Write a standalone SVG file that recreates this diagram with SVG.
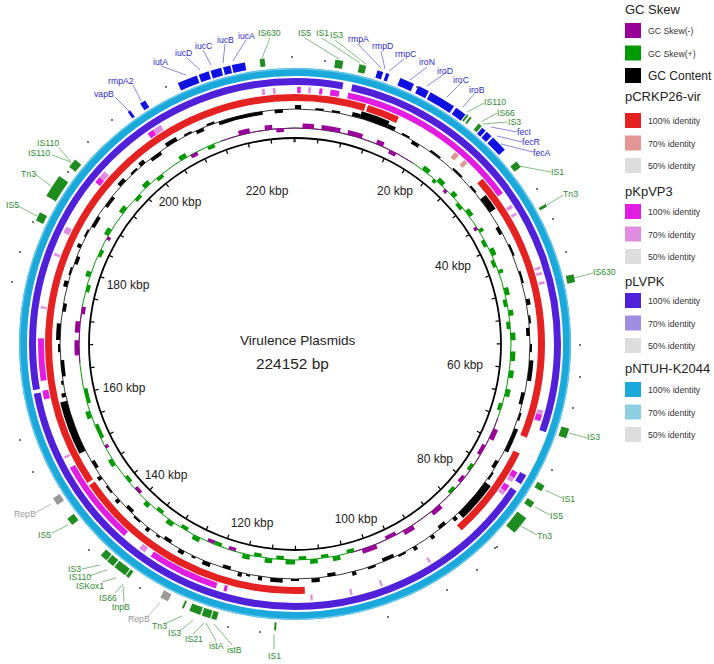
<svg xmlns="http://www.w3.org/2000/svg" width="714" height="664" viewBox="0 0 714 664">
<style>
text{font-family:"Liberation Sans",Arial,sans-serif}
.r{fill:none}
.lb{font-size:8.7px}
.bl{fill:#2B2BC8}
.gr{fill:#2E8B2E}
.gy{fill:#999999}
.ll{stroke-width:0.8;fill:none}
.lbb{stroke:#6A6AD8}
.lgg{stroke:#5CAF5C}
.lgy{stroke:#AAAAAA}
.tk{font-size:12px;fill:#222222;text-anchor:middle}
.lh{font-size:13px;fill:#222222}
.ls{font-size:8.7px;fill:#333333}
.dot{fill:#333333}
</style>
<rect width="714" height="664" fill="#ffffff"/>
<g id="plasmid-map" transform="translate(295,344)">
 <g id="rings" transform="rotate(-90)">
  <!-- pNTUH-K2044 -->
  <circle class="r" r="272" stroke="#1BA9DC" stroke-width="8"/>
  <circle class="r" r="275.2" stroke="#6CC8EC" stroke-width="1.2"/>
  <!-- pLVPK -->
  <circle class="r" r="262.5" stroke="#5121D9" stroke-width="7" pathLength="360" stroke-dasharray="10.5 2 96.9 10.2 2.2 1.8 135.6 0.8 100"/>
  <!-- pKpVP3 -->
  <circle class="r" r="254" stroke="#E11DE1" stroke-width="6" pathLength="360" stroke-dasharray="0 0.5 0.8 4.2 0.7 1.8 2 2 42 52 1.5 12.5 1.5 2 1.5 70.5 0.7 1.8 16.2 7.5 19.5 16.3 2 2.2 9.6 37.7 1.5 14.5 1.5 33.5"/>
  <circle class="r" r="254" stroke="#E08CE0" stroke-width="6" pathLength="360" stroke-dasharray="0 3 0.6 53.6 0.8 1.2 0.6 12.6 0.6 0.7 0.6 1.5 0.6 28.6 1 15.5 1 2.5 1 22 0.5 11.5 0.5 6.5 0.5 8.5 0.5 39.3 1.5 26.2 0.5 34 0.5 11.7 0.6 4.9 1.5 13.3 1.7 14.3 2 24 0.7 1.8 0.6 4.4"/>
  <!-- pCRKP26-vir -->
  <circle class="r" r="246.5" stroke="#E52222" stroke-width="7" pathLength="360" stroke-dasharray="16.5 0.5 7.6 24 63.4 4 22.2 39.5 57.8 0.7 123.8"/>
  <circle class="r" r="246.5" stroke="#E39696" stroke-width="7" pathLength="360" stroke-dasharray="0 39.8 1.2 1.6 1 316.4"/>
  <!-- GC content -->
  <circle class="r" r="235" stroke="#000000" stroke-width="0.8"/>
  <circle class="r" r="238.5" stroke="#000000" stroke-width="7" pathLength="360" stroke-dasharray="0 16 7 29 4 70 10 107 13 104"/>
  <circle class="r" r="237" stroke="#000000" stroke-width="4" pathLength="360" stroke-dasharray="1.5 12.5 2 7 2 54 1.5 13.5 5 12 6 20 1 6 1 4 1 15 1 8 2 7 3 2 1 4 1 7 2 5 1.5 8.5 1 9 1 6 1 21 1 13 4 9 1.5 8.5 1 17 2 5 1.5 6.5 3 30"/>
  <circle class="r" r="233.2" stroke="#000000" stroke-width="3.5" pathLength="360" stroke-dasharray="0 30 2 28 2 24 2 14 3 15 2 18 2 13 3 12 2 24 2 14 2 10 2 12 2 22 4 12 2 10 2 8 3 3 3 13 3 10 2 4 11 3 2 3"/>
  <circle class="r" r="236" stroke="#000000" stroke-width="2" pathLength="360" stroke-dasharray="0 5 2 2 2 16 2 6 3 4 3 3 2 15 3 4 3 8 2 5 2 15 2 14 2 27 2 6 2 17 2 10 1 13 1 9 1 5 2 8 2 27 1 7 2 17 2 8 2 17 2 14 2 4 2 20"/>
  <!-- GC skew -->
  <circle class="r" r="216" stroke="#009900" stroke-width="1"/>
  <circle class="r" r="216" stroke="#990099" stroke-width="1" pathLength="360" stroke-dasharray="33 77 55 100 15 60 20"/>
  <circle class="r" r="218.3" stroke="#009900" stroke-width="4.5" pathLength="360" stroke-dasharray="0 36 2 3 2 3 1.5 4.5 2 4 1 5 2 4 1 4 2 4 1.5 4.5 2 3 2.5 2.5 2 3 2 64 2 4 2 4 2.5 3.5 2 4 2 12 2 6 2 6 1.5 12.5 2 12 2 36 1.5 10.5 2 5 2 7 2 10 2 30"/>
  <circle class="r" r="218.3" stroke="#990099" stroke-width="4.5" pathLength="360" stroke-dasharray="0 2 3 2 5 2 4 4 2 89 3 22 3 6 3 8 4 105 4 2 3 69 3 4 2 6"/>
  <circle class="r" r="214" stroke="#990099" stroke-width="3.5" pathLength="360" stroke-dasharray="0 26 2 16 1 12 1 60 3 7 2 22 3 41 2 4 2 22 2 13 1 36 2 19 1 31 2 22 2 3"/>
  <circle class="r" r="214" stroke="#009900" stroke-width="3.5" pathLength="360" stroke-dasharray="0 40 1 8 2 10 2 4 2 9 2 4 2 20 2 16 2 6 2 30 2 5 2 4 2 4 2 4 2 9 2 8 2 6 2 10 2 12 4 6 4 26 2 8 2 16 2 6 2 14 2 22"/>
  <!-- backbone -->
  <circle class="r" r="206" stroke="#000000" stroke-width="1.8"/>
  <circle class="r" r="203.5" stroke="#000000" stroke-width="3.5" pathLength="360" stroke-dasharray="0.35 6.074" stroke-dashoffset="0.175"/>
 </g>
 <g id="features" transform="rotate(-90)">
  <circle id="genes-blue" class="r" r="282" stroke="#1010E0" stroke-width="8" pathLength="360" stroke-dasharray="0 16.8 1.2 0.6 0.7 2.3 3 1 2.3 0.4 5.5 0.5 2.3 4.3 0.9 0.3 1.3 0.4 3.4 277 0.6 2.4 1.2 7.4 4.1 0.4 2.1 0.4 2.2 0.4 1.5 0.3 2.7 10.1"/>
  <circle id="mobile-elements" class="r" r="283" stroke="#1E8C1E" stroke-width="8" pathLength="360" stroke-dasharray="0 8.1 1.6 3.3 1.4 22.4 0.4 0.4 0.4 1.8 0.8 9.9 1.4 8.9 0.6 14.5 1.6 29.7 2 10.4 1.3 2.6 1.3 59 0.4 11.7 1.1 0.2 1.8 0.3 2.3 1.2 0.4 12.2 0.7 0.2 2.7 0.3 1.6 0.2 1.5 8.3 1.6 63 1.8 10.8 1.9 42.9 1 6.1"/>
  <circle id="tn3-large" class="r" r="284" stroke="#1E8C1E" stroke-width="11" pathLength="360" stroke-dasharray="0 127 3.7 170.1 4.7 54.5"/>
  <circle id="repB" class="r" r="283" stroke="#999999" stroke-width="8" pathLength="360" stroke-dasharray="0 206.3 1.7 27.9 1.6 122.5"/>
 </g>
</g>
<g id="outer-marks">
 <circle class="dot" cx="112" cy="120" r="0.9"/><circle class="dot" cx="292" cy="57" r="0.9"/><circle class="dot" cx="166" cy="87" r="0.9"/>
 <circle class="dot" cx="325" cy="61" r="0.9"/><circle class="dot" cx="417" cy="87" r="0.9"/><circle class="dot" cx="537" cy="189" r="0.9"/>
 <circle class="dot" cx="553" cy="219" r="0.9"/><circle class="dot" cx="566" cy="252" r="0.9"/><circle class="dot" cx="88" cy="142" r="0.9"/>
 <circle class="dot" cx="68" cy="172" r="0.9"/><circle class="dot" cx="33" cy="222" r="0.9"/><circle class="dot" cx="20" cy="252" r="0.9"/>
 <circle class="dot" cx="12" cy="282" r="0.9"/><circle class="dot" cx="580" cy="345" r="0.9"/><circle class="dot" cx="580" cy="377" r="0.9"/>
 <circle class="dot" cx="573" cy="408" r="0.9"/><circle class="dot" cx="552" cy="470" r="0.9"/><circle class="dot" cx="495" cy="548" r="0.9"/>
 <circle class="dot" cx="89" cy="550" r="0.9"/><circle class="dot" cx="140" cy="588" r="0.9"/><circle class="dot" cx="228" cy="627" r="0.9"/>
 <circle class="dot" cx="260" cy="632" r="0.9"/><circle class="dot" cx="20" cy="440" r="0.9"/><circle class="dot" cx="33" cy="472" r="0.9"/>
 <circle class="dot" cx="447" cy="590" r="0.9"/><circle class="dot" cx="497" cy="547" r="0.9"/><circle class="dot" cx="477" cy="570" r="0.9"/>
 <circle class="dot" cx="388" cy="617" r="0.9"/>
</g>
<g id="scale-labels">
 <text class="tk" x="395" y="195">20 kbp</text>
 <text class="tk" x="453" y="270">40 kbp</text>
 <text class="tk" x="465" y="369">60 kbp</text>
 <text class="tk" x="435" y="463">80 kbp</text>
 <text class="tk" x="356" y="523">100 kbp</text>
 <text class="tk" x="252" y="527">120 kbp</text>
 <text class="tk" x="166" y="479">140 kbp</text>
 <text class="tk" x="124" y="392">160 kbp</text>
 <text class="tk" x="128" y="289">180 kbp</text>
 <text class="tk" x="180" y="206">200 kbp</text>
 <text class="tk" x="267" y="195">220 kbp</text>
</g>
<g id="title">
 <text x="240" y="345" font-size="13.6" fill="#222222">Virulence Plasmids</text>
 <text x="256" y="369" font-size="15.4" fill="#222222">224152 bp</text>
</g>
<g id="connectors">
 <path class="ll lbb" d="M115,97L130,112M133,85L141,101M161,66L186,75M186,57L200,70M203,50L211,65M225,44L223,63M246,40L233,61M358,44L381,68M381,51L385,69M404,59L389,71M427,67L410,80M447,72L427,86M462,82L447,97M476,92L463,107M517,132L491,127M522,142L497,136M533,152L501,144"/>
 <path class="ll lgg" d="M270,38L262,58M305,38L339,59M322,38L360,63M335,40L366,64M484,103L467,112M497,113L481,122M507,122L483,124M551,172L519,166M563,195L547,205M593,273L574,278M587,438L569,433M562,498L545,490M550,515L535,507M537,535L519,525M274,649L274,634M232,645L214,624M216,641L206,623M193,634L204,623M180,631L193,620M164,624L182,616M124,602L123,586M115,593L123,584M102,582L116,578M89,576L107,570M82,569L100,565M52,533L68,525M18,206L37,216M35,174L51,186M59,148L71,162M52,155L71,162"/>
 <path class="ll lgy" d="M147,617L160,603M35,513L51,504"/>
</g>
<g id="gene-labels" class="lb">
 <text class="bl" x="94" y="97">vapB</text>
 <text class="bl" x="108" y="84">rmpA2</text>
 <text class="bl" x="153" y="65">iutA</text>
 <text class="bl" x="175" y="56">iucD</text>
 <text class="bl" x="195" y="49">iucC</text>
 <text class="bl" x="217" y="43">iucB</text>
 <text class="bl" x="238" y="39">iucA</text>
 <text class="bl" x="348" y="42">rmpA</text>
 <text class="bl" x="372" y="49">rmpD</text>
 <text class="bl" x="395" y="57">rmpC</text>
 <text class="bl" x="419" y="65">iroN</text>
 <text class="bl" x="437" y="74">iroD</text>
 <text class="bl" x="453" y="83">iroC</text>
 <text class="bl" x="469" y="93">iroB</text>
 <text class="bl" x="517" y="135">fecI</text>
 <text class="bl" x="522" y="145">fecR</text>
 <text class="bl" x="533" y="156">fecA</text>
 <text class="gr" x="258" y="36">IS630</text>
 <text class="gr" x="298" y="36">IS5</text>
 <text class="gr" x="316" y="36">IS1</text>
 <text class="gr" x="330" y="38">IS3</text>
 <text class="gr" x="484" y="105">IS110</text>
 <text class="gr" x="497" y="115.5">IS66</text>
 <text class="gr" x="508" y="125">IS3</text>
 <text class="gr" x="551" y="175">IS1</text>
 <text class="gr" x="563" y="197">Tn3</text>
 <text class="gr" x="593" y="275">IS630</text>
 <text class="gr" x="587" y="440">IS3</text>
 <text class="gr" x="562" y="502">IS1</text>
 <text class="gr" x="550" y="519">IS5</text>
 <text class="gr" x="537" y="539">Tn3</text>
 <text class="gr" x="268" y="659">IS1</text>
 <text class="gr" x="227" y="653">istB</text>
 <text class="gr" x="209" y="649">istA</text>
 <text class="gr" x="185" y="642">IS21</text>
 <text class="gr" x="168" y="636">IS3</text>
 <text class="gr" x="152" y="629">Tn3</text>
 <text class="gr" x="112" y="610">tnpB</text>
 <text class="gr" x="99" y="601">IS66</text>
 <text class="gr" x="76" y="588.5">ISKox1</text>
 <text class="gr" x="69" y="580">IS110</text>
 <text class="gr" x="68" y="571.5">IS3</text>
 <text class="gr" x="38" y="538">IS5</text>
 <text class="gr" x="6" y="208">IS5</text>
 <text class="gr" x="21" y="177">Tn3</text>
 <text class="gr" x="28" y="156">IS110</text>
 <text class="gr" x="37" y="146">IS110</text>
 <text class="gy" x="128" y="622">RepB</text>
 <text class="gy" x="14" y="517">RepB</text>
</g>
<g id="legend">
 <text class="lh" x="625" y="14">GC Skew</text>
 <rect x="625" y="23" width="16" height="15" fill="#990099"/><text class="ls" x="648" y="34">GC Skew(-)</text>
 <rect x="625" y="45.5" width="16" height="15" fill="#009900"/><text class="ls" x="648" y="56.5">GC Skew(+)</text>
 <rect x="625" y="68" width="16" height="15" fill="#000000"/><text x="648" y="80" font-size="12" fill="#222222">GC Content</text>
 <text class="lh" x="625" y="101">pCRKP26-vir</text>
 <rect x="625" y="113" width="16" height="15" fill="#E52222"/><text class="ls" x="648" y="124">100% identity</text>
 <rect x="625" y="135.5" width="16" height="15" fill="#E39696"/><text class="ls" x="648" y="146.5">70% identity</text>
 <rect x="625" y="158" width="16" height="15" fill="#DDDDDD"/><text class="ls" x="648" y="169">50% identity</text>
 <text class="lh" x="625" y="196">pKpVP3</text>
 <rect x="625" y="204" width="16" height="15" fill="#E11DE1"/><text class="ls" x="648" y="215">100% identity</text>
 <rect x="625" y="226.5" width="16" height="15" fill="#E08CE0"/><text class="ls" x="648" y="237.5">70% identity</text>
 <rect x="625" y="249" width="16" height="15" fill="#DDDDDD"/><text class="ls" x="648" y="260">50% identity</text>
 <text class="lh" x="625" y="286">pLVPK</text>
 <rect x="625" y="293" width="16" height="15" fill="#5121D9"/><text class="ls" x="648" y="304">100% identity</text>
 <rect x="625" y="315.5" width="16" height="15" fill="#A08CE0"/><text class="ls" x="648" y="326.5">70% identity</text>
 <rect x="625" y="338" width="16" height="15" fill="#DDDDDD"/><text class="ls" x="648" y="349">50% identity</text>
 <text class="lh" x="625" y="373">pNTUH-K2044</text>
 <rect x="625" y="382" width="16" height="15" fill="#1BA9DC"/><text class="ls" x="648" y="393">100% identity</text>
 <rect x="625" y="404.5" width="16" height="15" fill="#8FCFE2"/><text class="ls" x="648" y="415.5">70% identity</text>
 <rect x="625" y="427" width="16" height="15" fill="#DDDDDD"/><text class="ls" x="648" y="438">50% identity</text>
</g>
</svg>
